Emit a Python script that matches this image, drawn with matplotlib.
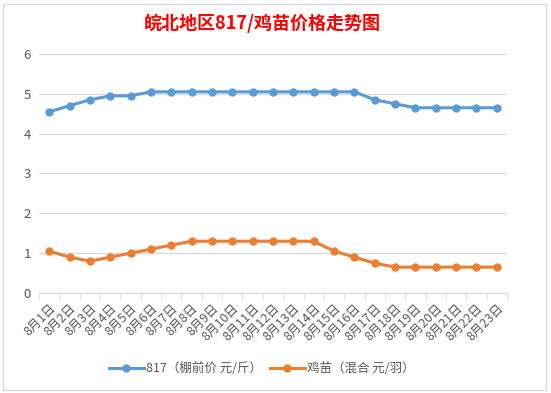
import matplotlib
matplotlib.use("Agg")
import matplotlib.pyplot as plt
from matplotlib.patches import Rectangle

plt.rcParams['font.family'] = ['Noto Sans CJK SC', 'DejaVu Sans']

dates = [f"8月{d}日" for d in range(1, 24)]
price_817 = [4.55, 4.7, 4.85, 4.95, 4.95, 5.05, 5.05, 5.05, 5.05, 5.05, 5.05, 5.05,
             5.05, 5.05, 5.05, 5.05, 4.85, 4.75, 4.65, 4.65, 4.65, 4.65, 4.65]
price_chick = [1.05, 0.9, 0.8, 0.9, 1.0, 1.1, 1.2, 1.3, 1.3, 1.3, 1.3, 1.3,
               1.3, 1.3, 1.05, 0.9, 0.75, 0.65, 0.65, 0.65, 0.65, 0.65, 0.65]
series_names = ["817（棚前价 元/斤）", "鸡苗（混合 元/羽）"]
title = "皖北地区817/鸡苗价格走势图"

W, H = 551, 393
fig = plt.figure(figsize=(W / 100, H / 100), dpi=100)
fig.patch.set_facecolor("white")

# chart border
fig.add_artist(Rectangle((3 / W, 3 / H), (W - 8) / W, (H - 7) / H, transform=fig.transFigure,
                         fill=False, edgecolor="#d9d9d9", linewidth=1))

left, right, top, bottom = 39, 507, 54, 293
ax = fig.add_axes([left / W, 1 - bottom / H, (right - left) / W, (bottom - top) / H])

x = list(range(len(dates)))
blue = "#5b9bd5"
orange = "#ed7d31"
ax.plot(x, price_817, color=blue, lw=2.2, marker="o", ms=5, label=series_names[0])
ax.plot(x, price_chick, color=orange, lw=2.2, marker="o", ms=5, label=series_names[1])

ax.set_xlim(-0.5, len(dates) - 0.5)
ax.set_ylim(0, 6)
ax.set_yticks(range(0, 7))
ax.grid(axis="y", color="#d9d9d9", lw=0.9)
ax.set_axisbelow(True)
for s in ["top", "right", "left"]:
    ax.spines[s].set_visible(False)
ax.spines["bottom"].set_color("#d9d9d9")
ax.tick_params(axis="y", length=0, labelsize=9.5, labelcolor="#595959", pad=6)

ax.set_xticks(x)
ax.set_xticklabels(dates, rotation=45, ha="right", rotation_mode="anchor",
                   fontsize=9, color="#595959")
ax.tick_params(axis="x", which="major", length=0, pad=6)
ax.set_xticks([i - 0.5 for i in range(len(dates) + 1)], minor=True)
ax.tick_params(axis="x", which="minor", length=4, color="#d9d9d9")

fig.text(262 / W, 1 - 23 / H, title, color="#ff0000", fontsize=13, fontweight="bold",
         ha="center", va="center")

fig.legend(loc="center", bbox_to_anchor=(262 / W, 1 - 369 / H), ncol=2, frameon=False,
           fontsize=9, labelcolor="#595959", handlelength=2.8, columnspacing=0.6,
           handletextpad=0.2)

fig.savefig("out.png", dpi=100)
